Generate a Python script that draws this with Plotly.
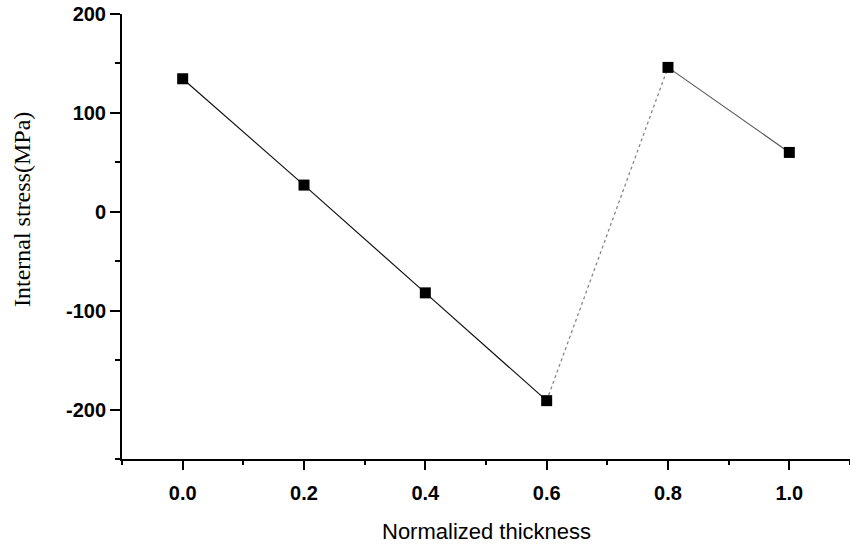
import plotly.graph_objects as go

thickness = [0.0, 0.2, 0.4, 0.6, 0.8, 1.0]
stress = [134.5, 27, -82, -191, 146, 60]

x_tickvals = [0.0, 0.2, 0.4, 0.6, 0.8, 1.0]
x_ticktext = ["0.0", "0.2", "0.4", "0.6", "0.8", "1.0"]
y_tickvals = [-200, -100, 0, 100, 200]
y_ticktext = ["-200", "-100", "0", "100", "200"]

fig = go.Figure()

# solid segment 0.0 -> 0.6
fig.add_trace(go.Scatter(x=thickness[0:4], y=stress[0:4], mode="lines",
                         line=dict(color="#111111", width=1.2), showlegend=False))
# dotted segment 0.6 -> 0.8
fig.add_trace(go.Scatter(x=thickness[3:5], y=stress[3:5], mode="lines",
                         line=dict(color="#888888", width=1.3, dash="dot"), showlegend=False))
# thin segment 0.8 -> 1.0
fig.add_trace(go.Scatter(x=thickness[4:6], y=stress[4:6], mode="lines",
                         line=dict(color="#555555", width=1.1), showlegend=False))
# markers
fig.add_trace(go.Scatter(x=thickness, y=stress, mode="markers",
                         marker=dict(symbol="square", size=11, color="black"),
                         showlegend=False))

axis_font = dict(family="Liberation Sans, Arial, sans-serif", size=20, color="black", weight="bold")

fig.update_layout(
    width=850, height=549,
    margin=dict(l=122, r=0, t=14, b=90),
    paper_bgcolor="white", plot_bgcolor="white",
    xaxis=dict(range=[-0.1, 1.1], tickvals=x_tickvals, ticktext=x_ticktext,
               ticks="outside", ticklen=9, tickwidth=2, tickcolor="black",
               minor=dict(dtick=0.1, tick0=0, ticks="outside", ticklen=4, tickwidth=2, tickcolor="black"),
               showline=True, linewidth=2, linecolor="black",
               showgrid=False, zeroline=False, tickfont=axis_font,
               ticklabelstandoff=6),
    yaxis=dict(range=[-250, 200], tickvals=y_tickvals, ticktext=y_ticktext,
               ticks="outside", ticklen=10, tickwidth=2, tickcolor="black",
               minor=dict(dtick=50, tick0=0, ticks="outside", ticklen=5, tickwidth=2, tickcolor="black"),
               showline=True, linewidth=2, linecolor="black",
               showgrid=False, zeroline=False, tickfont=axis_font),
    annotations=[
        dict(text="Normalized thickness", xref="paper", yref="paper",
             x=0.5, y=(459 - 531) / 445, xanchor="center", yanchor="middle",
             showarrow=False,
             font=dict(family="Liberation Sans, Arial, sans-serif", size=22, color="black")),
        dict(text="Internal stress(MPa)", xref="paper", yref="paper",
             x=(22 - 122) / 728, y=(459 - 209) / 445, xanchor="center", yanchor="middle",
             textangle=-90, showarrow=False,
             font=dict(family="Liberation Serif, Times New Roman, serif", size=24, color="black")),
    ],
)

fig.write_html("out.html",
               config={"displayModeBar": False},
               post_script="document.body.style.margin='0';document.body.style.padding='0';document.body.style.overflow='hidden';")
